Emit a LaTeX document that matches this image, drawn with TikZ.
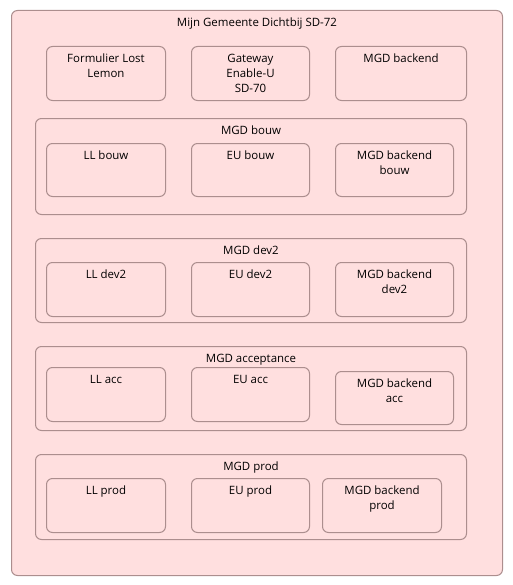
\documentclass[tikz,border=0pt]{standalone}
\usepackage{fontspec}
\setmainfont{Open Sans}
\definecolor{pinkfill}{RGB}{255,223,223}
\definecolor{boxline}{RGB}{172,142,142}
\begin{document}
\begin{tikzpicture}[x=0.75pt,y=-0.75pt,
  font=\fontsize{8.6pt}{11.25pt}\selectfont,
  frame/.style={draw=boxline,line width=0.75pt,rounded corners=4.5pt,inner sep=0pt,anchor=north west},
  lbl/.style={anchor=north,align=center,inner sep=0pt,yshift=-5.9pt,text=black}]
\useasboundingbox (0,0) rectangle (513,585);
% outer
\node[frame,fill=pinkfill,minimum width=491*0.75pt,minimum height=565*0.75pt,
  label={[lbl]north:Mijn Gemeente Dichtbij SD-72}] (outer) at (11,10) {};
% top row
\node[frame,minimum width=119*0.75pt,minimum height=54*0.75pt,
  label={[lbl]north:Formulier Lost\\Lemon}] (fll) at (46,46) {};
\node[frame,minimum width=118*0.75pt,minimum height=54*0.75pt,
  label={[lbl]north:Gateway\\Enable-U\\SD-70}] (gw) at (191,46) {};
\node[frame,minimum width=131*0.75pt,minimum height=54*0.75pt,
  label={[lbl]north:MGD backend}] (mgdb) at (335,46) {};
% groups
\node[frame,minimum width=431*0.75pt,minimum height=96*0.75pt,
  label={[lbl]north:MGD bouw}] (gbouw) at (35,118) {};
\node[frame,minimum width=119*0.75pt,minimum height=53*0.75pt,
  label={[lbl]north:LL bouw}] (llbouw) at (46,143) {};
\node[frame,minimum width=118*0.75pt,minimum height=53*0.75pt,
  label={[lbl]north:EU bouw}] (eubouw) at (191,143) {};
\node[frame,minimum width=118*0.75pt,minimum height=53*0.75pt,
  label={[lbl]north:MGD backend\\bouw}] (mbbouw) at (335,143) {};
%
\node[frame,minimum width=431*0.75pt,minimum height=84*0.75pt,
  label={[lbl]north:MGD dev2}] (gdev) at (35,238) {};
\node[frame,minimum width=119*0.75pt,minimum height=54*0.75pt,
  label={[lbl]north:LL dev2}] (lldev) at (46,262) {};
\node[frame,minimum width=118*0.75pt,minimum height=54*0.75pt,
  label={[lbl]north:EU dev2}] (eudev) at (191,262) {};
\node[frame,minimum width=118*0.75pt,minimum height=54*0.75pt,
  label={[lbl]north:MGD backend\\dev2}] (mbdev) at (335,262) {};
%
\node[frame,minimum width=431*0.75pt,minimum height=84*0.75pt,
  label={[lbl]north:MGD acceptance}] (gacc) at (35,346) {};
\node[frame,minimum width=119*0.75pt,minimum height=54*0.75pt,
  label={[lbl]north:LL acc}] (llacc) at (46,367) {};
\node[frame,minimum width=118*0.75pt,minimum height=54*0.75pt,
  label={[lbl]north:EU acc}] (euacc) at (191,367) {};
\node[frame,minimum width=118*0.75pt,minimum height=53*0.75pt,
  label={[lbl]north:MGD backend\\acc}] (mbacc) at (335,371) {};
%
\node[frame,minimum width=431*0.75pt,minimum height=85*0.75pt,
  label={[lbl]north:MGD prod}] (gprod) at (35,454) {};
\node[frame,minimum width=119*0.75pt,minimum height=54*0.75pt,
  label={[lbl]north:LL prod}] (llprod) at (46,478) {};
\node[frame,minimum width=118*0.75pt,minimum height=54*0.75pt,
  label={[lbl]north:EU prod}] (euprod) at (191,478) {};
\node[frame,minimum width=119*0.75pt,minimum height=54*0.75pt,
  label={[lbl]north:MGD backend\\prod}] (mbprod) at (322,478) {};
\end{tikzpicture}
\end{document}
